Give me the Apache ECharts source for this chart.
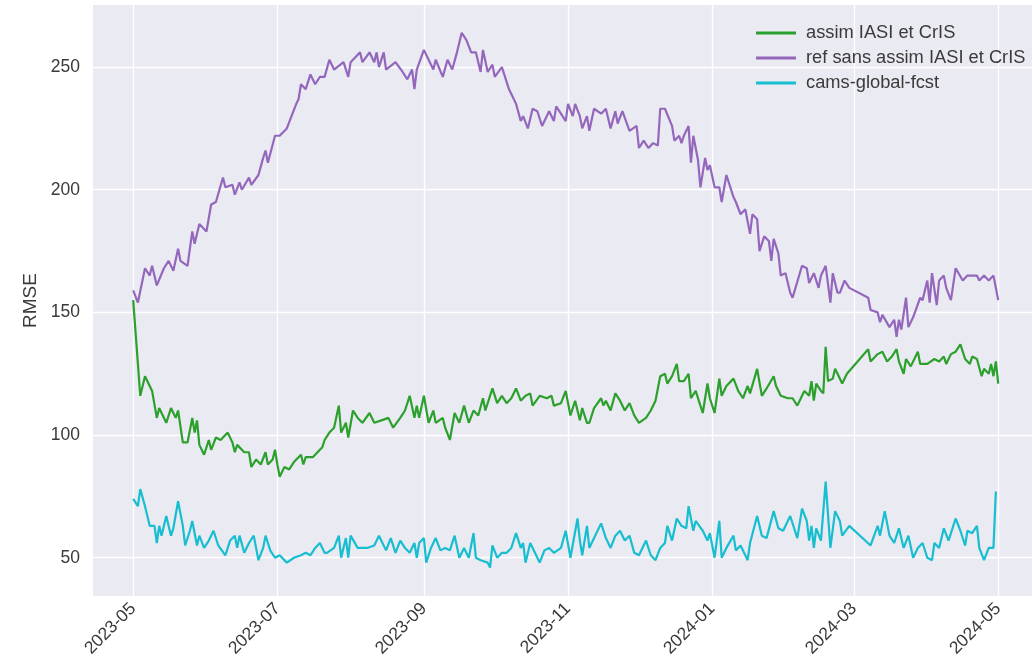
<!DOCTYPE html>
<html>
<head>
<meta charset="utf-8">
<script src="https://cdn.jsdelivr.net/npm/echarts@6/dist/echarts.min.js"></script>
<style>
    html, body { margin: 0; padding: 0; background: #ffffff; }
    #chart { width: 1032px; height: 668px; }
</style>
</head>
<body>
<div id="chart"></div>
<script>
// jours comptés depuis le 2023-05-01, valeur RMSE
const START = Date.UTC(2023, 4, 1);

const seriesNames = ['assim IASI et CrIS', 'ref sans assim IASI et CrIS', 'cams-global-fcst'];
const seriesColors = ['#2ca02c', '#9467bd', '#17becf'];

const assimPts = [
    [0,155],[3,116],[5,124],[7,120],[8,118],[10,107],[11,111],[14,105],[16,111],[18,107],[19,110],
    [21,97],[23,97],[25,107],[26,101],[27,106],[28,96],[30,92],[32,98],[33,94],[35,99],[37,98],
    [40,101],[42,97],[43,93],[44,96],[47,93],[49,93],[50,87],[52,90],[54,88],[56,93],[57,88],
    [59,90],[60,94],[61,88],[62,83],[64,87],[66,86],[68,89],[71,92],[72,88],[73,91],[76,91],
    [78,93],[80,95],[81,98],[83,101],[85,103],[87,112],[88,101],[90,105],[91,99],[93,110],
    [95,107],[97,105],[100,109],[102,105],[105,106],[108,107],[110,103],[113,107],[115,110],
    [117,116],[119,107],[120,112],[121,107],[123,116],[125,105],[127,110],[128,105],[131,107],
    [132,103],[134,98],[136,109],[138,105],[140,112],[142,105],[144,110],[146,108],[148,115],
    [149,110],[152,119],[154,113],[156,116],[158,113],[160,115],[162,119],[164,114],[166,116],
    [168,117],[169,112],[172,116],[175,115],[177,116],[178,112],[181,113],[183,118],[185,108],
    [187,114],[189,106],[190,111],[192,105],[193,105],[195,111],[198,115],[199,112],[200,114],
    [202,110],[204,117],[206,114],[208,110],[210,113],[212,108],[214,105],[217,107],[219,110],
    [221,114],[223,124],[225,125],[226,121],[228,124],[230,129],[231,122],[233,122],[235,125],
    [236,115],[238,118],[241,109],[243,121],[244,115],[246,109],[248,123],[249,116],[251,120],
    [254,123],[256,118],[258,115],[260,120],[261,117],[264,127],[266,116],[268,119],[271,124],
    [272,120],[274,116],[277,115],[279,115],[281,112],[283,116],[284,118],[286,116],[287,122],
    [288,114],[289,121],[291,118],[292,117],[293,136],[294,122],[296,123],[297,127],[300,121],
    [302,125],[311,135],[312,130],[315,133],[317,134],[319,130],[321,132],[323,135],[324,130],
    [326,125],[327,131],[329,128],[332,134],[333,129],[334,129],[336,129],[339,131],[341,130],
    [343,132],[344,129],[346,133],[348,134],[350,137],[352,131],[354,129],[355,132],[357,131],
    [359,124],[360,127],[362,125],[363,129],[364,124],[365,130],[366,121]
];

const refPts = [
    [0,159],[2,154],[5,168],[7,165],[8,169],[10,161],[13,168],[15,171],[17,167],[19,176],[20,171],
    [23,169],[25,183],[26,178],[28,186],[31,183],[33,194],[35,195],[38,205],[39,201],[42,202],
    [43,198],[45,203],[46,200],[49,205],[50,202],[53,206],[55,213],[56,216],[57,211],[60,222],
    [62,222],[65,225],[67,230],[69,235],[70,237],[71,243],[73,241],[75,247],[77,243],[79,246],
    [81,246],[83,253],[85,249],[89,252],[91,246],[92,252],[96,256],[97,252],[100,256],[102,252],
    [103,256],[104,250],[106,256],[107,249],[111,252],[114,248],[116,245],[118,249],[119,241],
    [120,249],[123,257],[125,253],[127,249],[128,253],[131,246],[133,253],[135,249],[137,256],
    [139,264],[141,261],[143,256],[145,256],[147,248],[148,257],[150,248],[152,251],[153,246],
    [156,250],[159,241],[160,239],[162,235],[164,228],[165,230],[167,225],[169,233],[171,232],
    [173,226],[176,232],[178,228],[179,234],[181,231],[183,228],[184,235],[186,230],[187,235],
    [189,230],[190,225],[192,230],[193,224],[195,233],[198,231],[200,233],[202,225],[204,232],
    [205,227],[207,232],[210,224],[213,226],[214,217],[216,220],[218,217],[220,219],[222,218],
    [223,233],[225,233],[228,226],[229,220],[231,222],[232,219],[233,222],[235,226],[236,211],
    [237,222],[239,212],[240,201],[242,213],[243,208],[244,210],[246,201],[248,201],[249,195],
    [251,206],[254,197],[255,195],[257,190],[259,192],[261,182],[262,190],[264,188],[265,175],
    [267,181],[269,179],[270,171],[271,180],[273,174],[274,165],[276,166],[278,158],[279,156],
    [283,169],[285,168],[286,162],[288,166],[290,160],[291,165],[293,169],[295,154],[296,166],
    [298,158],[299,158],[301,163],[303,160],[311,156],[312,151],[315,150],[316,146],[317,149],
    [320,144],[322,147],[323,140],[324,147],[325,143],[327,156],[328,144],[330,148],[333,156],
    [334,155],[336,163],[337,154],[338,166],[340,153],[341,163],[343,165],[344,160],[346,155],
    [348,168],[351,163],[353,165],[355,165],[357,165],[358,163],[360,165],[362,163],[364,165],
    [366,155]
];

const camsPts = [
    [0,74],[2,71],[3,78],[5,71],[7,63],[9,63],[10,56],[11,63],[12,59],[14,67],[16,59],[17,62],
    [19,73],[21,63],[22,55],[24,61],[25,65],[27,55],[28,59],[30,54],[32,57],[34,61],[36,55],
    [39,51],[41,57],[43,59],[44,54],[45,59],[47,52],[49,56],[51,59],[53,49],[55,54],[56,59],
    [58,53],[60,50],[62,51],[65,48],[68,50],[71,51],[73,52],[75,51],[77,54],[79,56],[81,52],
    [82,52],[85,54],[87,59],[88,50],[90,58],[91,50],[92,59],[95,54],[97,54],[99,54],[102,55],
    [104,59],[107,53],[109,58],[111,52],[113,57],[115,54],[117,52],[119,56],[120,50],[121,56],
    [123,58],[124,48],[126,54],[128,58],[130,53],[132,54],[134,53],[136,59],[138,50],[140,54],
    [142,50],[144,60],[145,50],[147,49],[150,48],[151,46],[152,55],[154,50],[156,52],[158,52],
    [160,54],[162,60],[164,54],[165,56],[166,48],[168,56],[170,52],[172,48],[174,53],[176,54],
    [178,52],[181,54],[183,61],[185,50],[188,66],[189,57],[190,51],[192,63],[193,54],[195,58],
    [198,64],[200,58],[202,54],[204,59],[206,61],[208,57],[210,59],[212,52],[214,51],[217,57],
    [219,51],[221,49],[223,54],[225,56],[226,63],[228,57],[230,66],[232,63],[234,62],[235,71],
    [237,61],[238,65],[241,61],[243,57],[244,60],[246,50],[248,65],[249,50],[251,54],[254,59],
    [255,53],[257,55],[260,49],[261,56],[264,67],[266,59],[268,58],[271,69],[273,62],[275,61],
    [278,67],[281,58],[283,70],[285,65],[286,57],[287,63],[288,54],[289,62],[291,57],[293,81],
    [295,54],[297,69],[299,65],[300,59],[303,63],[312,55],[315,63],[316,59],[318,69],[320,59],
    [322,56],[324,62],[326,54],[328,59],[330,50],[332,54],[334,56],[336,50],[338,49],[339,56],
    [341,54],[343,62],[345,57],[348,66],[350,61],[352,55],[353,61],[355,60],[357,63],[358,54],
    [360,49],[362,54],[364,54],[365,77]
];

const xTickLabels = ['2023-05', '2023-07', '2023-09', '2023-11', '2024-01', '2024-03', '2024-05'];
const yTicks = [50, 100, 150, 200, 250];

let FONT = '"Liberation Sans", Arial, sans-serif';
let TXT = '#3a3a3a';

// position des graduations (en jours) à partir des libellés
let xTickDays = xTickLabels.map(function(s) {
    let p = s.split('-');
    return Math.round((Date.UTC(+p[0], +p[1] - 1, 1) - START) / 86400000);
});
let labelByDay = {};
xTickDays.forEach(function(d, i) { labelByDay[d] = xTickLabels[i]; });

let myChart = echarts.init(document.getElementById('chart'));
let allPts = [assimPts, refPts, camsPts];

let options = {
    animation: false,
    backgroundColor: '#ffffff',
    grid: {
        left: 93, right: 0, top: 5, bottom: 72,
        show: true,
        backgroundColor: '#EAEAF2',
        borderWidth: 0,
        outerBoundsMode: 'none'
    },
    legend: {
        orient: 'vertical',
        left: 751,
        top: 18,
        icon: 'rect',
        itemWidth: 40,
        itemHeight: 3,
        itemGap: 5,
        textStyle: { fontFamily: FONT, fontSize: 18.3, color: TXT, lineHeight: 20, padding: [0, 0, 0, 5] },
        data: seriesNames
    },
    xAxis: {
        type: 'value',
        min: -17,
        max: 380.3,
        axisLine: { show: false },
        axisTick: { show: false, customValues: xTickDays },
        axisLabel: {
            customValues: xTickDays,
            rotate: 45,
            margin: 10,
            fontFamily: FONT,
            fontSize: 17.5,
            color: TXT,
            formatter: function(v) { return labelByDay[v] || ''; }
        },
        splitLine: { show: true, lineStyle: { color: '#ffffff', width: 1.3 } }
    },
    yAxis: {
        type: 'value',
        min: 34.4,
        max: 275.3,
        name: 'RMSE',
        nameLocation: 'middle',
        nameGap: 51,
        nameTextStyle: { fontFamily: FONT, fontSize: 19, color: TXT },
        axisLine: { show: false },
        axisTick: { show: false, customValues: yTicks },
        axisLabel: { customValues: yTicks, margin: 13, fontFamily: FONT, fontSize: 17.5, color: TXT },
        splitLine: { show: true, lineStyle: { color: '#ffffff', width: 1.3 } }
    },
    series: seriesNames.map(function(name, i) {
        return {
            name: name,
            type: 'line',
            data: allPts[i],
            showSymbol: false,
            color: seriesColors[i],
            lineStyle: { width: 2.2, color: seriesColors[i] }
        };
    })
};

myChart.setOption(options);
</script>
</body>
</html>
